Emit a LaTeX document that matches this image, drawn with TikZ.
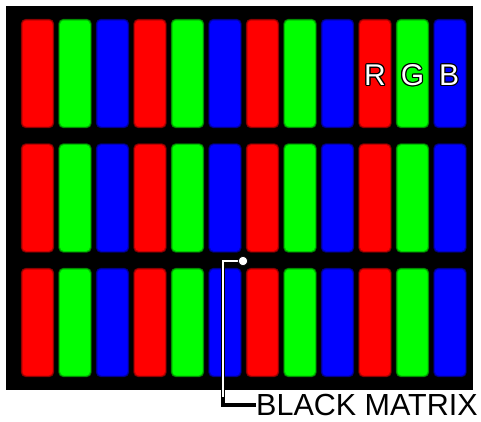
\documentclass[tikz,border=0pt]{standalone}
\usepackage{fontspec}
\setmainfont{Liberation Sans}
\definecolor{c0}{RGB}{255,0,0}
\definecolor{c1}{RGB}{0,255,0}
\definecolor{c2}{RGB}{0,0,255}
\newcommand{\outlined}[1]{%
  \begin{tikzpicture}[baseline=(core.base)]
    \foreach \dx/\dy in {-1.3/0,1.3/0,0/-1.3,0/1.3,-0.9/-0.9,0.9/0.9,-0.9/0.9,0.9/-0.9}
      \node[inner sep=0pt,text=black] at (\dx pt,\dy pt) {#1};
    \node[inner sep=0pt,text=white] (core) at (0,0) {#1};
  \end{tikzpicture}}
\tikzset{
  lbl/.style={font=\fontsize{30}{30}\selectfont, inner sep=0pt},
  big/.style={font=\fontsize{30.5}{30.5}\selectfont, inner sep=0pt, anchor=west}
}
\begin{document}
\begin{tikzpicture}[x=1pt,y=-1pt]
\useasboundingbox (0,0) rectangle (481,421);
\fill[white] (0,0) rectangle (481,421);
\fill[black] (6,6) rectangle (473,390);
\foreach \r in {0,1,2} {
  \foreach \c in {0,...,11} {
    \pgfmathsetmacro\xx{22+37.5*\c}
    \pgfmathsetmacro\yy{20+124.5*\r}
    \pgfmathtruncatemacro\k{mod(\c,3)}
    \fill[c\k!45!black, rounded corners=5pt] (\xx-1.2,\yy-1.2) rectangle ++(33.4,109.4);
    \fill[c\k!75!black, rounded corners=4.5pt] (\xx-0.4,\yy-0.4) rectangle ++(31.8,107.8);
    \fill[c\k, rounded corners=4pt] (\xx+0.5,\yy+0.5) rectangle ++(30,106);
  }
}
\node[lbl] (R) at (375,75) {\outlined{R}};
\node[lbl] (G) at (412.5,75) {\outlined{G}};
\node[lbl] (B) at (449,75) {\outlined{B}};
\node[big] (bm) at (256,405) {BLACK MATRIX};
\coordinate (dot) at (243,261);
\coordinate (corner) at (223,261);
\draw[black, line width=3.4] (dot) -- (corner) |- (bm.west);
\draw[white, line width=1.6] (dot) -- (corner) -- (223,397);
\fill[white, draw=black, line width=0.8] (dot) circle (4.8);
\end{tikzpicture}
\end{document}
